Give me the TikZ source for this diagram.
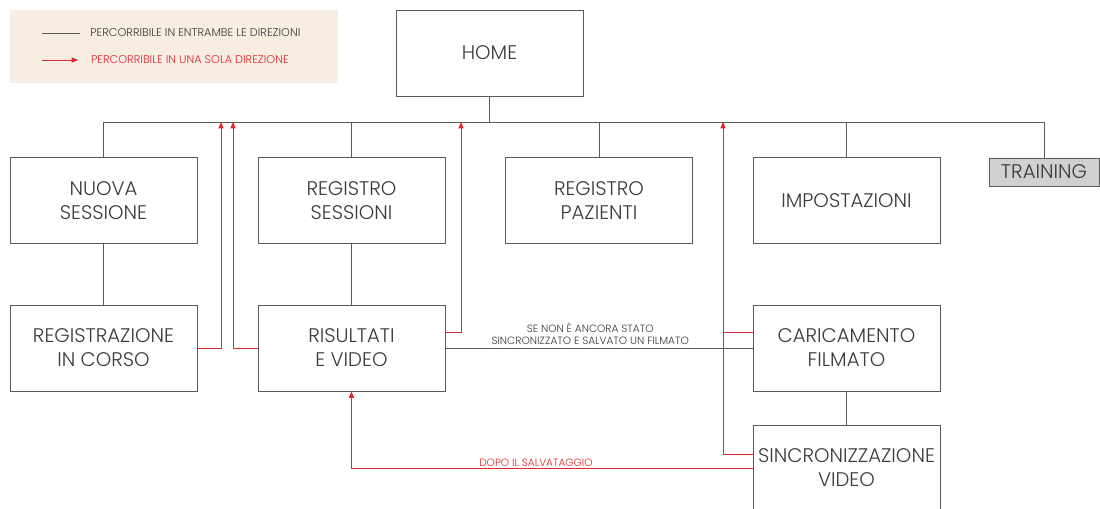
\documentclass[tikz,border=0pt]{standalone}
\usepackage{fontspec}
\setmainfont{Poppins}[UprightFont=* Light]
\usetikzlibrary{arrows.meta,positioning,calc}
\definecolor{linegray}{HTML}{5A5A5A}
\definecolor{textgray}{HTML}{3A3A3A}
\definecolor{arrowred}{HTML}{E0282E}
\definecolor{legendbg}{HTML}{F8EDE3}
\definecolor{traininggray}{HTML}{D0D0D0}

\begin{document}
\begin{tikzpicture}[x=0.025cm,y=-0.025cm,
  box/.style={draw=linegray,line width=0.6pt,minimum width=4.675cm,minimum height=2.15cm,
    align=center,text=textgray,font=\fontsize{14}{17}\selectfont,inner sep=0pt},
  conn/.style={draw=linegray,line width=0.6pt},
  oneway/.style={draw=arrowred,line width=0.6pt,-{Triangle[length=1.6mm,width=1.3mm]}},
  lbl/.style={text=textgray,font=\fontsize{7.5}{9}\selectfont,align=center,inner sep=1pt},
  redlbl/.style={lbl,text=arrowred}]
  \clip (0,0) rectangle (1100,508);
  \useasboundingbox (0,0) rectangle (1100,508);

  \fill[legendbg] (10,10) rectangle (338,83);
  \coordinate (lg1a) at (42,33);
  \coordinate (lg1b) at (80,33);
  \coordinate (lg2a) at (42,60);
  \coordinate (lg2b) at (78,60);
  \draw[conn] (lg1a) -- (lg1b) node[lbl,font=\fontsize{8}{9}\selectfont,right=6pt] {PERCORRIBILE IN ENTRAMBE LE DIREZIONI};
  \draw[oneway] (lg2a) -- (lg2b) node[redlbl,font=\fontsize{8}{9}\selectfont,right=8pt] {PERCORRIBILE IN UNA SOLA DIREZIONE};

  \node[box] (home) at (489.5,53) {HOME};
  \node[box] (nuova) at (103.5,200.5) {NUOVA\\SESSIONE};
  \node[box] (regsess) at (351.5,200.5) {REGISTRO\\SESSIONI};
  \node[box] (regpaz) at (599,200.5) {REGISTRO\\PAZIENTI};
  \node[box] (impost) at (846.5,200.5) {IMPOSTAZIONI};
  \node[box,fill=traininggray,minimum width=2.75cm,minimum height=0.7cm] (training) at (1044,172) {TRAINING};
  \node[box] (regcorso) at (103.5,348) {REGISTRAZIONE\\IN CORSO};
  \node[box] (risultati) at (351.5,348) {RISULTATI\\E VIDEO};
  \node[box] (caric) at (846.5,348) {CARICAMENTO\\FILMATO};
  \node[box] (sincro) at (846.5,468) {SINCRONIZZAZIONE\\VIDEO};

  \coordinate (bus) at (0,122);
  \draw[conn] (home.south) -- (home.south |- bus);
  \draw[conn] (nuova.north) |- (training.north |- bus) -- (training.north);
  \foreach \n in {regsess,regpaz,impost}
    \draw[conn] (\n.north) -- (\n.north |- bus);
  \draw[conn] (nuova.south) -- (regcorso.north);
  \draw[conn] (regsess.south) -- (risultati.north);
  \draw[conn] (caric.south) -- (sincro.north);
  \draw[conn] (risultati.east) -- node[lbl,above=1pt,xshift=-0.22cm]
    {SE NON È ANCORA STATO\\SINCRONIZZATO E SALVATO UN FILMATO} (caric.west);

  \coordinate (up1) at (221,122);
  \coordinate (up2) at (233,122);
  \coordinate (up3) at (461,122);
  \coordinate (up4) at (723,122);
  \draw[oneway] (regcorso.east) -| (up1);
  \draw[oneway] (risultati.west) -| (up2);
  \draw[oneway] ([yshift=0.4cm]risultati.east) -| (up3);
  \draw[oneway] ([yshift=0.4cm]caric.west) -| (up4);
  \draw[draw=arrowred,line width=0.6pt] ([yshift=0.35cm]sincro.west) -| (up4);
  \draw[oneway] (sincro.west) -| node[redlbl,above,pos=0.27] {DOPO IL SALVATAGGIO} (risultati.south);
\end{tikzpicture}
\end{document}
